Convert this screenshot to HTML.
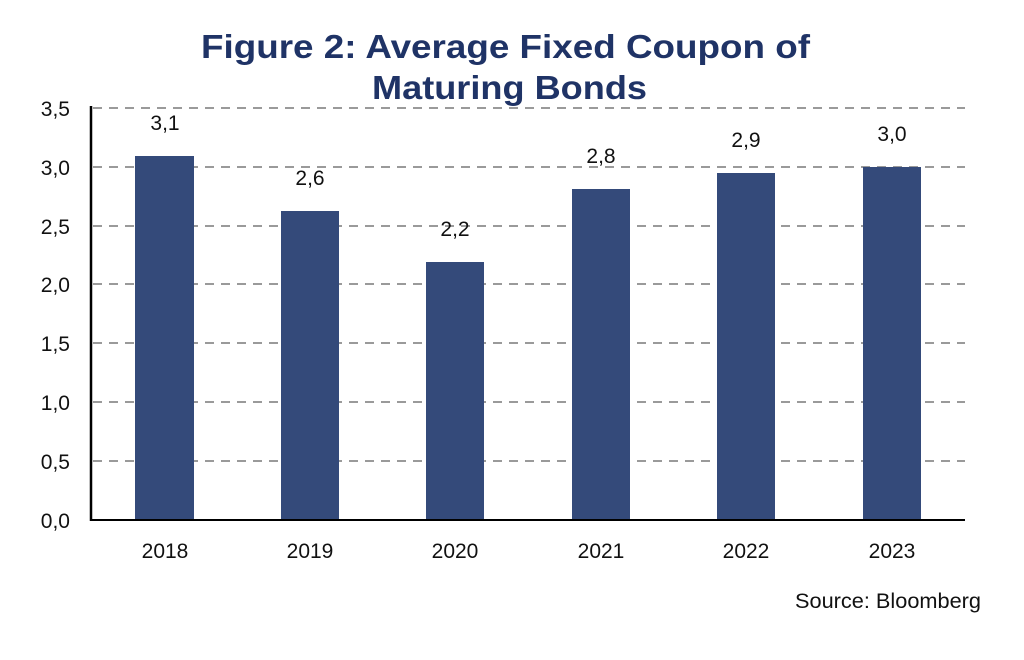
<!DOCTYPE html>
<html><head><style>
html,body{margin:0;padding:0;background:#fff;}
</style></head><body>
<svg width="1024" height="660" xmlns="http://www.w3.org/2000/svg" style="display:block">
<rect width="1024" height="660" fill="#fff"/>
<g font-family="Liberation Sans, sans-serif" font-weight="bold" font-size="33" fill="#1f3366">
<text x="201" y="58" textLength="609" lengthAdjust="spacingAndGlyphs">Figure 2: Average Fixed Coupon of</text>
<text x="372" y="99" textLength="275" lengthAdjust="spacingAndGlyphs">Maturing Bonds</text>
</g>
<g stroke="#9a9a9a" stroke-width="2" stroke-dasharray="9,7">
<line x1="93" x2="965" y1="108" y2="108"/>
<line x1="93" x2="965" y1="167" y2="167"/>
<line x1="93" x2="965" y1="226" y2="226"/>
<line x1="93" x2="965" y1="284" y2="284"/>
<line x1="93" x2="965" y1="343" y2="343"/>
<line x1="93" x2="965" y1="402" y2="402"/>
<line x1="93" x2="965" y1="461" y2="461"/>
</g>
<g fill="#344a7a">
<rect x="135" y="156" width="59" height="364"/>
<rect x="281" y="211" width="58" height="309"/>
<rect x="426" y="262" width="58" height="258"/>
<rect x="572" y="189" width="58" height="331"/>
<rect x="717" y="173" width="58" height="347"/>
<rect x="863" y="167" width="58" height="353"/>
</g>
<line x1="91" y1="106" x2="91" y2="521" stroke="#000" stroke-width="2.5"/>
<line x1="90" y1="520" x2="965" y2="520" stroke="#000" stroke-width="2"/>
<g font-family="Liberation Sans, sans-serif" font-size="21" fill="#111" text-anchor="end">
<text x="70" y="116">3,5</text>
<text x="70" y="175">3,0</text>
<text x="70" y="234">2,5</text>
<text x="70" y="292">2,0</text>
<text x="70" y="351">1,5</text>
<text x="70" y="410">1,0</text>
<text x="70" y="469">0,5</text>
<text x="70" y="528">0,0</text>
</g>
<g font-family="Liberation Sans, sans-serif" font-size="21" fill="#111" text-anchor="middle">
<text x="165" y="130">3,1</text>
<text x="310" y="185">2,6</text>
<text x="455" y="236">2,2</text>
<text x="601" y="163">2,8</text>
<text x="746" y="147">2,9</text>
<text x="892" y="141">3,0</text>
<text x="165" y="558">2018</text>
<text x="310" y="558">2019</text>
<text x="455" y="558">2020</text>
<text x="601" y="558">2021</text>
<text x="746" y="558">2022</text>
<text x="892" y="558">2023</text>
</g>
<text x="795" y="608" font-family="Liberation Sans, sans-serif" font-size="21" fill="#111" textLength="186" lengthAdjust="spacingAndGlyphs">Source: Bloomberg</text>
</svg>
</body></html>
